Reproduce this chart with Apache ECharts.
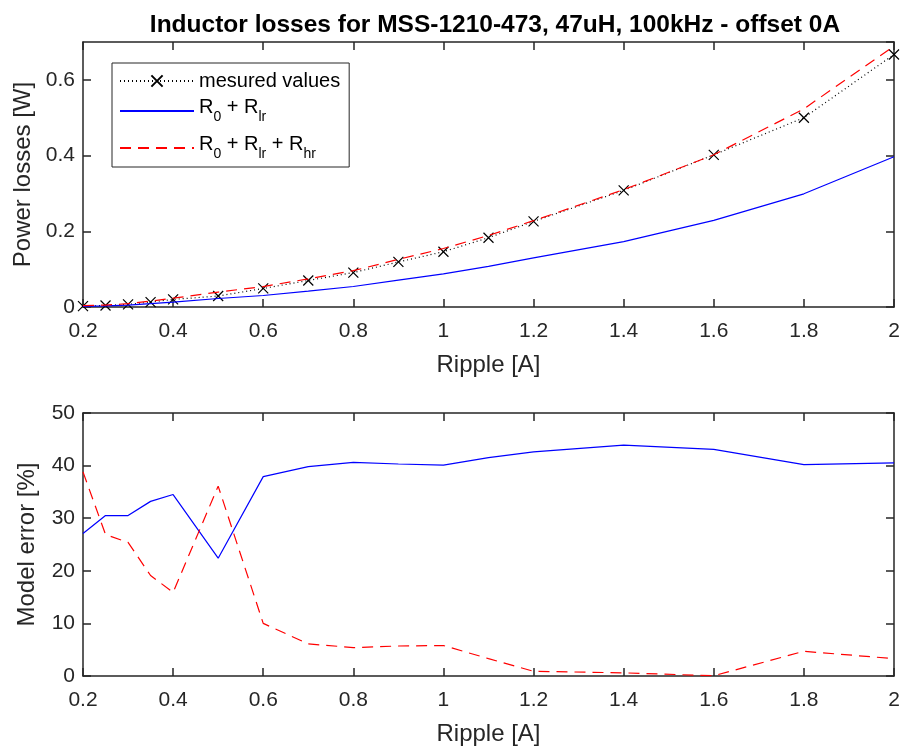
<!DOCTYPE html>
<html>
<head>
<meta charset="utf-8">
<script src="https://cdn.jsdelivr.net/npm/echarts@6/dist/echarts.min.js"></script>
<style>html,body{margin:0;padding:0;background:#fff}#c{width:905px;height:747px}</style>
</head>
<body>
<div id="c"></div>
<script>
const ripple = [0.2, 0.25, 0.3, 0.35, 0.4, 0.5, 0.6, 0.7, 0.8, 0.9, 1.0, 1.1, 1.2, 1.4, 1.6, 1.8, 2.0];
const measured = [0.0025, 0.004, 0.007, 0.013, 0.020, 0.029, 0.049, 0.070, 0.091, 0.119, 0.146, 0.183, 0.226, 0.308, 0.402, 0.500, 0.667];
const modelLr = [0.0018, 0.0028, 0.0049, 0.0087, 0.0131, 0.0225, 0.0304, 0.0421, 0.0541, 0.0710, 0.0875, 0.1071, 0.1297, 0.1728, 0.2287, 0.299, 0.397];
const modelLrHr = [0.0035, 0.0051, 0.0088, 0.0155, 0.0232, 0.0395, 0.0539, 0.0743, 0.0959, 0.1258, 0.1545, 0.189, 0.228, 0.310, 0.402, 0.5235, 0.689];
const errLr = [27.1, 30.5, 30.5, 33.2, 34.5, 22.4, 37.9, 39.8, 40.6, 40.3, 40.1, 41.5, 42.6, 43.9, 43.1, 40.2, 40.5];
const errLrHr = [38.8, 26.9, 25.4, 19.1, 15.9, 36.1, 10.0, 6.1, 5.4, 5.7, 5.8, 3.3, 0.9, 0.6, 0.05, 4.7, 3.3];

const titleText = 'Inductor losses for MSS-1210-473, 47uH, 100kHz - offset 0A';
const xName = 'Ripple [A]';
const yNameTop = 'Power losses [W]';
const yNameBottom = 'Model error [%]';
const seriesNames = ['mesured values', 'R0 + Rlr', 'R0 + Rlr + Rhr'];

const pairs = (ys) => ripple.map((x, i) => [x, ys[i]]);
const FONT = '"Liberation Sans", Arial, Helvetica, sans-serif';
const AX = '#262626';
const fmt = v => String(+(+v).toFixed(2));

function mainX(grid) {
  return {
    type: 'value', gridIndex: grid, min: 0.2, max: 2, interval: 0.2,
    name: xName, nameLocation: 'middle', nameGap: 46,
    nameTextStyle: {fontFamily: FONT, fontSize: 24, color: AX},
    axisLine: {show: true, onZero: false, lineStyle: {color: AX, width: 1.5}},
    axisTick: {show: true, inside: true, length: 8, lineStyle: {color: AX, width: 1.5}},
    axisLabel: {fontFamily: FONT, fontSize: 21, color: AX, margin: 14, formatter: fmt},
    splitLine: {show: false}
  };
}
function boxX(grid) {
  return {
    type: 'value', gridIndex: grid, position: 'top', min: 0.2, max: 2, interval: 0.2,
    axisLine: {show: true, onZero: false, lineStyle: {color: AX, width: 1.5}},
    axisTick: {show: true, inside: true, length: 8, lineStyle: {color: AX, width: 1.5}},
    axisLabel: {show: false}, splitLine: {show: false}
  };
}
function mainY(grid, min, max, interval, name) {
  return {
    type: 'value', gridIndex: grid, min: min, max: max, interval: interval,
    name: name, nameLocation: 'middle', nameGap: 44,
    nameTextStyle: {fontFamily: FONT, fontSize: 24, color: AX},
    axisLine: {show: true, onZero: false, lineStyle: {color: AX, width: 1.5}},
    axisTick: {show: true, inside: true, length: 8, lineStyle: {color: AX, width: 1.5}},
    axisLabel: {fontFamily: FONT, fontSize: 21, color: AX, margin: 8, formatter: fmt, showMaxLabel: max === 50},
    splitLine: {show: false}
  };
}
function boxY(grid, min, max, interval) {
  return {
    type: 'value', gridIndex: grid, position: 'right', min: min, max: max, interval: interval,
    axisLine: {show: true, onZero: false, lineStyle: {color: AX, width: 1.5}},
    axisTick: {show: true, inside: true, length: 8, lineStyle: {color: AX, width: 1.5}},
    axisLabel: {show: false}, splitLine: {show: false}
  };
}

const xSymbol = 'path://M0,0L10,10M10,0L0,10';

const chart = echarts.init(document.getElementById('c'), null, {renderer: 'canvas'});
chart.setOption({
  animation: false,
  backgroundColor: '#fff',
  title: {
    text: titleText, left: 490, textAlign: 'center', top: 8,
    textStyle: {fontFamily: FONT, fontSize: 24.5, fontWeight: 'bold', color: '#000'}
  },
  grid: [
    {left: 83, right: 11, top: 42, height: 265},
    {left: 83, right: 11, top: 413, height: 264}
  ],
  xAxis: [mainX(0), mainX(1), boxX(0), boxX(1)],
  yAxis: [mainY(0, 0, 0.7, 0.2, yNameTop), mainY(1, 0, 50, 10, yNameBottom), boxY(0, 0, 0.7, 0.2), boxY(1, 0, 50, 10)],
  legend: {
    data: [
      {name: seriesNames[0]},
      {name: seriesNames[1], itemStyle: {opacity: 0}},
      {name: seriesNames[2], itemStyle: {opacity: 0}}
    ],
    orient: 'vertical', left: 112, top: 63,
    padding: [8, 9, 6, 7], itemGap: 2, itemWidth: 74, itemHeight: 14,
    backgroundColor: '#fff', borderColor: '#262626', borderWidth: 1, borderRadius: 0,
    textStyle: {
      fontFamily: FONT, fontSize: 20, color: '#000',
      rich: {
        a: {fontFamily: FONT, fontSize: 20, color: '#000', lineHeight: 22},
        t: {fontFamily: FONT, fontSize: 20, color: '#000', lineHeight: 36, verticalAlign: 'top', padding: [4, 0, 0, 0]},
        s: {fontFamily: FONT, fontSize: 14, color: '#000', lineHeight: 36, verticalAlign: 'top', padding: [17, 0, 0, 0]},
        u: {fontFamily: FONT, fontSize: 20, color: '#000', lineHeight: 44, verticalAlign: 'top', padding: [8, 0, 0, 0]},
        v: {fontFamily: FONT, fontSize: 14, color: '#000', lineHeight: 44, verticalAlign: 'top', padding: [21, 0, 0, 0]}
      }
    },
    formatter: function (n) {
      if (n === seriesNames[0]) return '{a|mesured values}';
      if (n === seriesNames[1]) return '{t|R}{s|0}{t| + R}{s|lr}';
      return '{u|R}{v|0}{u| + R}{v|lr}{u| + R}{v|hr}';
    }
  },
  series: [
    {
      name: seriesNames[0], type: 'line', xAxisIndex: 0, yAxisIndex: 0, data: pairs(measured),
      showAllSymbol: true, symbol: xSymbol, symbolSize: 10,
      itemStyle: {color: 'rgba(0,0,0,0)', borderColor: '#000', borderWidth: 1.2},
      lineStyle: {color: '#000', width: 1.2, type: [1, 3]}, z: 3
    },
    {
      name: seriesNames[1], type: 'line', xAxisIndex: 0, yAxisIndex: 0, data: pairs(modelLr),
      symbol: 'none', itemStyle: {color: '#0000ff'}, lineStyle: {color: '#0000ff', width: 1.2}, z: 4
    },
    {
      name: seriesNames[2], type: 'line', xAxisIndex: 0, yAxisIndex: 0, data: pairs(modelLrHr),
      symbol: 'none', itemStyle: {color: '#ff0000'}, lineStyle: {color: '#ff0000', width: 1.2, type: [11, 7]}, z: 5
    },
    {
      name: 'err1', type: 'line', xAxisIndex: 1, yAxisIndex: 1, data: pairs(errLr),
      symbol: 'none', lineStyle: {color: '#0000ff', width: 1.2}, z: 4
    },
    {
      name: 'err2', type: 'line', xAxisIndex: 1, yAxisIndex: 1, data: pairs(errLrHr),
      symbol: 'none', lineStyle: {color: '#ff0000', width: 1.2, type: [11, 7]}, z: 5
    }
  ]
});
</script>
</body>
</html>
